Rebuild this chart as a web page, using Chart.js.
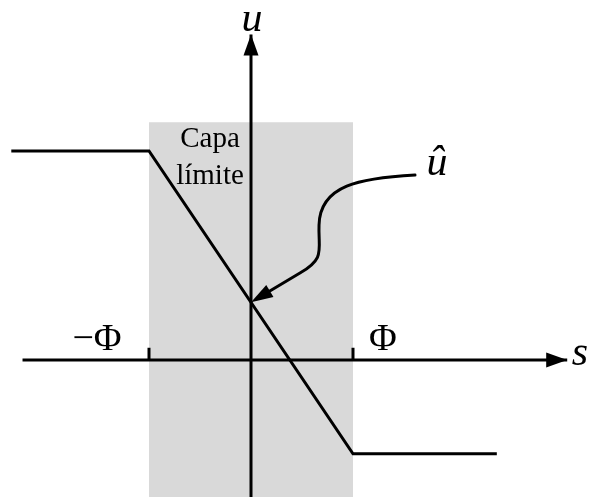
<!DOCTYPE html>
<html>
<head>
<meta charset="utf-8">
<script src="https://cdn.jsdelivr.net/npm/chart.js@4"></script>
<style>
  html, body { margin: 0; padding: 0; background: #fff; }
  #wrap { width: 589px; height: 497px; }
</style>
</head>
<body>
<div id="wrap"><canvas id="chart"></canvas></div>
<script>
// boundary layer: s in units of Phi
const PHI = 1;
const satX = [-2.35, -PHI, PHI, 2.41];
const satY = [2.05, 2.05, -0.92, -0.92];
const layerTop = 2.33;

const sAxis = [-2.24, 3.1];   // start, arrow tip
const uAxis = [-1.4, 3.19];
const tickLen = 0.12;

// curved pointer to u-hat (cubic bezier control points, data units)
const curvePts = [
  [1.608, 1.814],
  [1.069, 1.784], [0.676, 1.716], [0.667, 1.324],
  [0.657, 1.078], [0.735, 1.0], [0.480, 0.853]
];

const labels = [
  { text: "u", x: 0.01, y: 3.225, font: "italic 42px 'Liberation Serif'" },
  { text: "û", x: 1.824, y: 1.814, font: "italic 42px 'Liberation Serif'" },
  { text: "s", x: 3.225, y: -0.049, font: "italic 42px 'Liberation Serif'" },
  { text: "Φ", x: 1.294, y: 0.098, font: "38px 'Liberation Serif'" },
  { text: "−Φ", x: -1.51, y: 0.098, font: "38px 'Liberation Serif'" },
  { text: "Capa", x: -0.402, y: 2.088, font: "29px 'Liberation Serif'" },
  { text: "límite", x: -0.402, y: 1.725, font: "29px 'Liberation Serif'" }
];

const pts = (xs, ys) => xs.map((x, i) => ({ x: x, y: ys[i] }));

// u-hat: value of the saturation ramp at s = 0
const uHat = satY[1] + (satY[2] - satY[1]) * (0 - satX[1]) / (satX[2] - satX[1]);

function arrowHead(ctx, tip, from, len, half) {
  const dx = tip.x - from.x, dy = tip.y - from.y;
  const d = Math.hypot(dx, dy);
  const ux = dx / d, uy = dy / d;
  const bx = tip.x - ux * len, by = tip.y - uy * len;
  ctx.beginPath();
  ctx.moveTo(tip.x, tip.y);
  ctx.lineTo(bx - uy * half, by + ux * half);
  ctx.lineTo(bx + uy * half, by - ux * half);
  ctx.closePath();
  ctx.fill();
}

const extras = {
  id: "extras",
  afterDatasetsDraw(chart) {
    const ctx = chart.ctx;
    const xs = chart.scales.x, ys = chart.scales.y;
    const P = (x, y) => ({ x: xs.getPixelForValue(x), y: ys.getPixelForValue(y) });
    ctx.save();
    ctx.fillStyle = "#000";
    ctx.strokeStyle = "#000";

    // axis arrows
    arrowHead(ctx, P(sAxis[1], 0), P(0, 0), 21, 7.5);
    arrowHead(ctx, P(0, uAxis[1]), P(0, 0), 21, 7.5);

    // curved pointer
    const c = curvePts.map(p => P(p[0], p[1]));
    const tip = P(0, uHat);
    const last = c[c.length - 1];
    const len = 22;
    const d = Math.hypot(tip.x - last.x, tip.y - last.y);
    const stop = { x: tip.x + (last.x - tip.x) * (len - 2) / d, y: tip.y + (last.y - tip.y) * (len - 2) / d };
    ctx.lineWidth = 3;
    ctx.lineCap = "round";
    ctx.beginPath();
    ctx.moveTo(c[0].x, c[0].y);
    ctx.bezierCurveTo(c[1].x, c[1].y, c[2].x, c[2].y, c[3].x, c[3].y);
    ctx.bezierCurveTo(c[4].x, c[4].y, c[5].x, c[5].y, c[6].x, c[6].y);
    ctx.lineTo(stop.x, stop.y);
    ctx.stroke();
    arrowHead(ctx, tip, last, len, 7);

    // text
    ctx.textAlign = "center";
    ctx.textBaseline = "alphabetic";
    labels.forEach(l => {
      const p = P(l.x, l.y);
      ctx.font = l.font;
      ctx.fillText(l.text, p.x, p.y);
    });
    ctx.restore();
  }
};

const line = (data, extra) => Object.assign({
  data: data,
  borderColor: "#000",
  borderWidth: 3,
  pointRadius: 0,
  tension: 0,
  fill: false
}, extra || {});

new Chart(document.getElementById("chart"), {
  type: "line",
  data: {
    datasets: [
      line(pts(satX, satY), { borderJoinStyle: "miter" }),
      line(pts(sAxis, [0, 0])),
      line(pts([0, 0], uAxis)),
      line(pts([-PHI, -PHI], [0, tickLen]), { borderCapStyle: "butt" }),
      line(pts([PHI, PHI], [0, tickLen]), { borderCapStyle: "butt" }),
      // shaded boundary layer, drawn underneath everything
      line(pts([-PHI, PHI], [layerTop, layerTop]), {
        borderWidth: 0, borderColor: "rgba(0,0,0,0)",
        backgroundColor: "#d9d9d9", fill: "start", order: 10
      })
    ]
  },
  options: {
    responsive: true,
    maintainAspectRatio: false,
    animation: false,
    layout: { padding: 0 },
    plugins: { legend: { display: false }, tooltip: { enabled: false } },
    scales: {
      x: { type: "linear", display: false, min: -251 / 102, max: 338 / 102 },
      y: { type: "linear", display: false, min: -137 / 102, max: 360 / 102 }
    }
  },
  plugins: [extras]
});
</script>
</body>
</html>
